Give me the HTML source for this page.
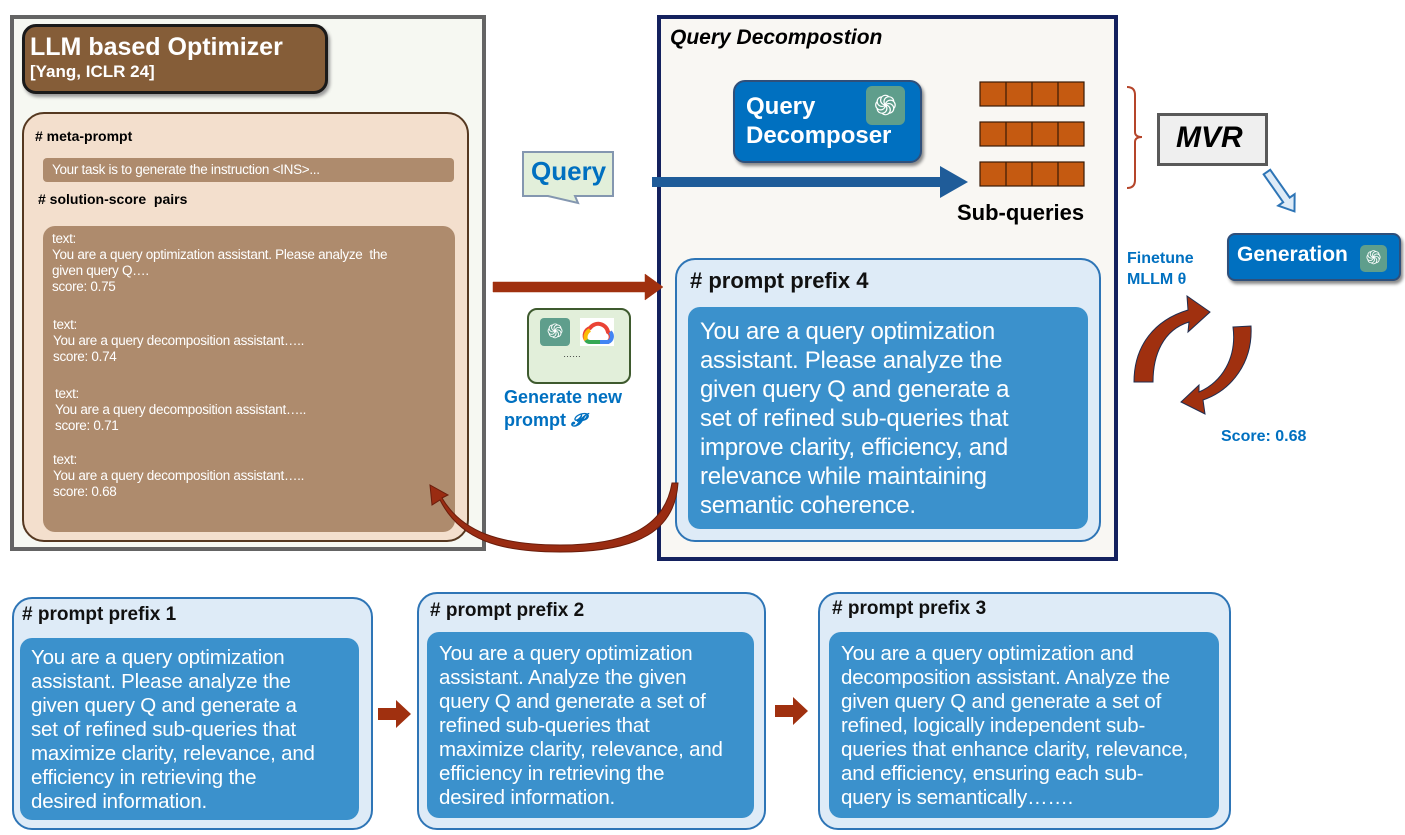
<!DOCTYPE html>
<html><head><meta charset="utf-8"><style>
*{margin:0;padding:0;box-sizing:border-box}
body{width:1405px;height:835px;background:#fff;position:relative;overflow:hidden;font-family:"Liberation Sans",sans-serif}
.a{position:absolute}
.w{white-space:nowrap}
.pp{position:absolute;background:#deebf7;border:2px solid #2e75b6;border-radius:20px}
.pi{position:absolute;background:#3b91cc;border-radius:12px;color:#fff;white-space:nowrap}
.ph{position:absolute;font-weight:bold;color:#111;white-space:nowrap}
.lt{color:#fff;font-size:13.5px;line-height:16px;letter-spacing:-0.3px;white-space:nowrap;position:absolute}
</style></head><body>

<!-- left panel -->
<div class="a" style="left:10px;top:15px;width:476px;height:536px;border:4px solid #646464;background:#f6f8f2"></div>
<div class="a" style="left:22px;top:24px;width:306px;height:70px;background:#855d38;border:3px solid #1a1a1a;border-radius:14px;box-shadow:2px 3px 3px #999"></div>
<div class="a w" style="left:30px;top:33px;color:#fff;font-weight:bold;font-size:25px">LLM based Optimizer</div>
<div class="a w" style="left:30px;top:62px;color:#fff;font-weight:bold;font-size:17px">[Yang, ICLR 24]</div>
<div class="a" style="left:22px;top:112px;width:447px;height:430px;background:#f3dfcd;border:2px solid #553820;border-radius:22px"></div>
<div class="a w" style="left:35px;top:128px;font-weight:bold;font-size:14px">#&nbsp;meta-prompt</div>
<div class="a" style="left:43px;top:158px;width:411px;height:24px;background:#ae8b6d;border-radius:4px"></div>
<div class="a w" style="left:52px;top:162px;color:#fff;font-size:13.5px;letter-spacing:-0.3px">Your task is to generate the instruction &lt;INS&gt;...</div>
<div class="a w" style="left:38px;top:191px;font-weight:bold;font-size:14px">#&nbsp;solution-score&nbsp; pairs</div>
<div class="a" style="left:43px;top:226px;width:412px;height:306px;background:#ae8b6d;border-radius:12px"></div>
<div class="lt" style="left:52px;top:231px">text:<br>You are a query optimization assistant. Please analyze&nbsp; the<br>given query Q….<br>score: 0.75</div>
<div class="lt" style="left:53px;top:317px">text:<br>You are a query decomposition assistant…..<br>score: 0.74</div>
<div class="lt" style="left:55px;top:386px">text:<br>You are a query decomposition assistant…..<br>score: 0.71</div>
<div class="lt" style="left:53px;top:452px">text:<br>You are a query decomposition assistant…..<br>score: 0.68</div>

<!-- query callout -->
<svg class="a" style="left:520px;top:148px" width="100" height="60"><path d="M3 4 H93 V48 H55 L58 55 L28 48 H3 Z" fill="#e2efda" stroke="#8497b0" stroke-width="2"/></svg>
<div class="a w" style="left:531px;top:156px;color:#0070c0;font-weight:bold;font-size:26px">Query</div>

<!-- gen box -->
<div class="a" style="left:527px;top:308px;width:104px;height:76px;background:#e2efda;border:2px solid #3e5a2e;border-radius:10px"></div>
<div class="a" style="left:540px;top:318px;width:30px;height:28px;background:#5f9e8c;border-radius:4px;color:#fff;font-size:20px;text-align:center;line-height:28px">֍</div>
<div class="a" style="left:580px;top:318px;width:34px;height:28px;background:#fff"><svg width="34" height="28"><path d="M6 22 A8 8 0 0 1 10 10 A10 10 0 0 1 28 14 A6 6 0 0 1 28 24 H10" fill="none" stroke="#ea4335" stroke-width="4"/><path d="M6 22 A5 5 0 0 0 10 24 H20" stroke="#34a853" stroke-width="4" fill="none"/><path d="M20 24 H28 A6 6 0 0 0 30 14" stroke="#4285f4" stroke-width="4" fill="none"/><path d="M6 22 A8 8 0 0 1 10 12" stroke="#fbbc05" stroke-width="4" fill="none"/></svg></div>
<div class="a w" style="left:563px;top:349px;font-size:9px;color:#333">……</div>
<div class="a w" style="left:504px;top:386px;color:#0070c0;font-weight:bold;font-size:18px;line-height:23px">Generate new<br>prompt <i>𝓟</i></div>

<!-- right panel -->
<div class="a" style="left:657px;top:15px;width:461px;height:546px;border:4px solid #14215e;background:#f9f7f3"></div>
<div class="a w" style="left:670px;top:26px;font-style:italic;font-weight:bold;font-size:21px">Query Decompostion</div>
<div class="a" style="left:733px;top:80px;width:189px;height:83px;background:#0070c0;border:2px solid #2f4f7a;border-radius:12px;box-shadow:2px 3px 3px #888"></div>
<div class="a w" style="left:746px;top:92px;color:#fff;font-weight:bold;font-size:24px;line-height:29px">Query<br>Decomposer</div>
<div class="a" style="left:866px;top:86px;width:39px;height:39px;background:#5f9e8c;border-radius:6px;color:#fff;font-size:28px;text-align:center;line-height:39px">֍</div>

<!-- subqueries -->
<svg class="a" style="left:978px;top:80px" width="110" height="110">
<g fill="#c55a11" stroke="#3a1a05" stroke-width="1.2">
<rect x="2" y="2" width="104" height="24"/><rect x="2" y="42" width="104" height="24"/><rect x="2" y="82" width="104" height="24"/></g>
<g stroke="#3a1a05" stroke-width="1.2"><path d="M28 2V26M54 2V26M80 2V26M28 42V66M54 42V66M80 42V66M28 82V106M54 82V106M80 82V106"/></g></svg>
<div class="a w" style="left:957px;top:200px;font-weight:bold;font-size:22px">Sub-queries</div>

<!-- prompt prefix 4 -->
<div class="pp" style="left:675px;top:258px;width:426px;height:284px"></div>
<div class="ph" style="left:690px;top:268px;font-size:22px"># prompt prefix 4</div>
<div class="pi" style="left:688px;top:307px;width:400px;height:222px;padding:10px 0 0 12px;font-size:24px;line-height:29px;letter-spacing:-0.3px">You are a query optimization<br>assistant. Please analyze the<br>given query Q and generate a<br>set of refined sub-queries that<br>improve clarity, efficiency, and<br>relevance while maintaining<br>semantic coherence.</div>

<!-- MVR -->
<div class="a" style="left:1157px;top:113px;width:111px;height:53px;background:#efefef;border:3px solid #595959"></div>
<div class="a w" style="left:1176px;top:121px;font-style:italic;font-weight:bold;font-size:30px">MVR</div>
<div class="a" style="left:1227px;top:233px;width:174px;height:48px;background:#0070c0;border:2px solid #2f4f7a;border-radius:8px;box-shadow:2px 3px 3px #888"></div>
<div class="a w" style="left:1237px;top:243px;color:#fff;font-weight:bold;font-size:21px">Generation</div>
<div class="a" style="left:1360px;top:245px;width:27px;height:27px;background:#5f9e8c;border-radius:5px;color:#fff;font-size:19px;text-align:center;line-height:27px">֍</div>
<div class="a w" style="left:1127px;top:248px;color:#0070c0;font-weight:bold;font-size:16px;line-height:21px">Finetune<br>MLLM θ</div>
<div class="a w" style="left:1221px;top:428px;color:#0070c0;font-weight:bold;font-size:16px">Score: 0.68</div>

<!-- bottom boxes -->
<div class="pp" style="left:12px;top:597px;width:361px;height:233px"></div>
<div class="ph" style="left:22px;top:604px;font-size:19px"># prompt prefix 1</div>
<div class="pi" style="left:20px;top:638px;width:339px;height:182px;padding:8px 0 0 11px;font-size:20.5px;line-height:24px;letter-spacing:-0.2px">You are a query optimization<br>assistant. Please analyze the<br>given query Q and generate a<br>set of refined sub-queries that<br>maximize clarity, relevance, and<br>efficiency in retrieving the<br>desired information.</div>

<div class="pp" style="left:417px;top:592px;width:349px;height:238px"></div>
<div class="ph" style="left:430px;top:600px;font-size:19px"># prompt prefix 2</div>
<div class="pi" style="left:427px;top:632px;width:327px;height:186px;padding:10px 0 0 12px;font-size:20.5px;line-height:24px;letter-spacing:-0.2px">You are a query optimization<br>assistant. Analyze the given<br>query Q and generate a set of<br>refined sub-queries that<br>maximize clarity, relevance, and<br>efficiency in retrieving the<br>desired information.</div>

<div class="pp" style="left:818px;top:592px;width:413px;height:238px"></div>
<div class="ph" style="left:832px;top:598px;font-size:19px"># prompt prefix 3</div>
<div class="pi" style="left:829px;top:632px;width:390px;height:186px;padding:10px 0 0 12px;font-size:20.5px;line-height:24px;letter-spacing:-0.2px">You are a query optimization and<br>decomposition assistant. Analyze the<br>given query Q and generate a set of<br>refined, logically independent sub-<br>queries that enhance clarity, relevance,<br>and efficiency, ensuring each sub-<br>query is semantically…….</div>

<!-- overlay arrows -->
<svg class="a" style="left:0;top:0" width="1405" height="835">
<path d="M493 287 H645 V279 L663 292 L645 305 V297 H493 Z" fill="#a0300f" stroke="#a0300f" stroke-width="0.5" transform="translate(0,-5)"/>
<path d="M652 177 H940 V166 L968 182 L940 198 V187 H652 Z" fill="#1f5c99"/>
<path d="M1127 87 Q1135 87 1135 95 V132 Q1135 137 1142 137 Q1135 137 1135 142 V180 Q1135 188 1127 188" fill="none" stroke="#b5452a" stroke-width="2"/>
<g transform="translate(1283,195) rotate(-35)"><path d="M-4 -28 H4 V6 H10 L0 20 L-10 6 H-4 Z" fill="#deebf7" stroke="#2e75b6" stroke-width="2"/></g>
<path d="M1134 382 C1134 345 1155 320 1188 310 L1187 296 L1210 312 L1188 332 L1189 322 C1163 330 1153 355 1153 382 Z" fill="#a0300f" stroke="#1f2d50" stroke-width="1"/>
<path d="M1233 327 L1251 326 C1253 362 1232 390 1203 400 L1205 414 L1181 402 L1199 385 L1199 392 C1222 382 1237 358 1233 327 Z" fill="#a0300f" stroke="#1f2d50" stroke-width="1"/>
<path d="M678 483 C675 530 640 552 560 552 C500 552 460 540 440 500 L432 505 L430 485 L448 495 L442 498 C462 532 500 545 560 545 C630 545 665 525 672 483 Z" fill="#9a2c12" stroke="#6a1d0b" stroke-width="1"/>
<path d="M378 708 H396 V700 L411 714 L396 728 V720 H378 Z" fill="#a0300f"/>
<path d="M775 705 H793 V697 L808 711 L793 725 V717 H775 Z" fill="#a0300f"/>
</svg>
</body></html>
